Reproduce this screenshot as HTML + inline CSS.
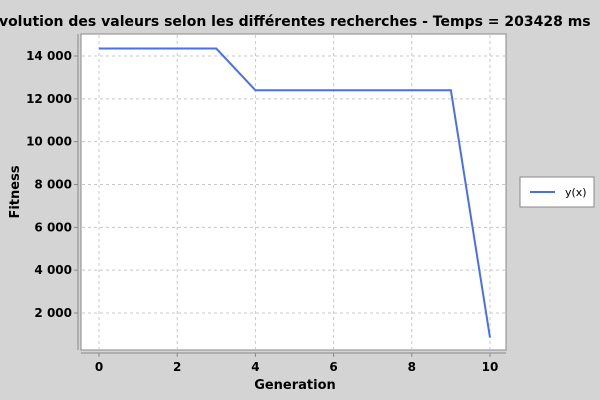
<!DOCTYPE html>
<html><head><meta charset="utf-8"><style>
body{margin:0;background:#d4d4d4;}
svg{display:block;font-family:"DejaVu Sans","Liberation Sans",sans-serif;}
</style></head><body>
<svg id="c" width="600" height="400">
<rect width="600" height="400" fill="#d4d4d4"/>
<text x="290" y="26" text-anchor="middle" font-size="14" font-weight="bold" fill="#000">Évolution des valeurs selon les différentes recherches - Temps = 203428 ms</text>
<rect x="81" y="34" width="425" height="316" fill="#fff" stroke="#888"/>
<g id="grid"></g>
<g id="axes"></g>
<polyline id="line" fill="none" stroke="#4a6ef0" stroke-width="2"/>
<text x="295" y="389" text-anchor="middle" font-size="13" font-weight="bold">Generation</text>
<text transform="translate(19,192) rotate(-90)" text-anchor="middle" font-size="13" font-weight="bold">Fitness</text>
<g>
<rect x="520" y="177" width="74" height="30" fill="#fff" stroke="#888"/>
<line x1="530" y1="192" x2="555" y2="192" stroke="#4a6ef0" stroke-width="2"/>
<text x="565" y="196" font-size="11">y(x)</text>
</g>
</svg>
<script>
const xs=[0,1,2,3,4,5,6,7,8,9,10];
const ys=[14350,14350,14350,14350,12400,12400,12400,12400,12400,12400,850];
const xTicks=[0,2,4,6,8,10];
const yTicks=[2000,4000,6000,8000,10000,12000,14000];
const yLabels=["2 000","4 000","6 000","8 000","10 000","12 000","14 000"];
const X=v=>99+v*39.1;
const Y=v=>313-(v-2000)*257/12000;
const ns="http://www.w3.org/2000/svg";
const g=document.getElementById('grid'),a=document.getElementById('axes');
function mk(p,t,at){const e=document.createElementNS(ns,t);for(const k in at)e.setAttribute(k,at[k]);p.appendChild(e);return e;}
xTicks.forEach(t=>{
 const l=mk(g,'line',{x1:X(t),x2:X(t),y1:35,y2:349,stroke:'#c8c8c8','stroke-dasharray':'3,3'});
 
 
 mk(a,'line',{x1:X(t),x2:X(t),y1:353,y2:357,stroke:'#888'});
 const tx=mk(a,'text',{x:X(t),y:371,'text-anchor':'middle','font-size':'12','font-weight':'bold'});
 tx.textContent=t;
 
 
});
yTicks.forEach((t,i)=>{
 const l=mk(g,'line',{x1:82,x2:505,y1:Y(t),y2:Y(t),stroke:'#c8c8c8','stroke-dasharray':'3,3'});
 
 
 mk(a,'line',{x1:74,x2:78,y1:Y(t),y2:Y(t),stroke:'#888'});
 const tx=mk(a,'text',{x:72,y:Y(t)+4,'text-anchor':'end','font-size':'12','font-weight':'bold'});
 tx.textContent=yLabels[i];
 
 
});
mk(a,'line',{x1:78,x2:78,y1:34,y2:350,stroke:'#888'});
mk(a,'line',{x1:81,x2:506,y1:353,y2:353,stroke:'#888'});
document.getElementById('line').setAttribute('points',xs.map((x,i)=>X(x)+','+Y(ys[i])).join(' '));
</script>
</body></html>
